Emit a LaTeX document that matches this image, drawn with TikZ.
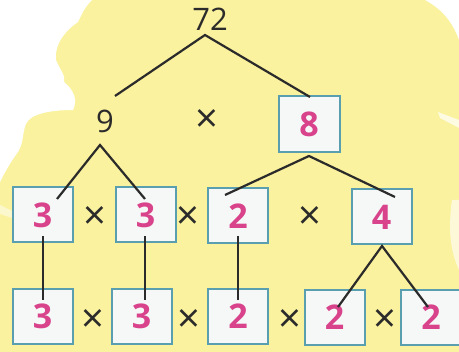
\documentclass[tikz,border=0pt]{standalone}
\usepackage{fontspec}
\setmainfont{Open Sans}
\definecolor{bgyellow}{HTML}{FAF29E}
\definecolor{boxfill}{HTML}{F5F8F6}
\definecolor{boxedge}{HTML}{5A9FB0}
\definecolor{digit}{HTML}{D8438B}
\definecolor{ink}{HTML}{2B2B2B}
\begin{document}
\begin{tikzpicture}[x=1pt,y=-1pt,
  numbox/.style={draw=boxedge,line width=2pt,fill=boxfill,minimum width=60pt,minimum height=55pt,inner sep=0pt,
    text=digit,font=\fontsize{34}{34}\selectfont\bfseries},
  plain/.style={text=ink,inner sep=0pt,font=\fontsize{31}{31}\selectfont},
  times/.style={text=ink,inner sep=0pt,font=\fontsize{40}{40}\selectfont\addfontfeatures{FakeBold=0}},
  link/.style={draw=ink,line width=2.2pt}]
\useasboundingbox (0,0) rectangle (459,352);
\begin{scope}
\clip (0,0) rectangle (459,352);
\fill[bgyellow] (0,0) rectangle (459,352);
\fill[white] (0,0) -- (92,0) .. controls (84,8) and (82,14) .. (78,22)
  .. controls (66,30) and (54,44) .. (56,60) .. controls (60,70) and (66,76) .. (64,82)
  .. controls (74,90) and (78,100) .. (73,110) .. controls (50,110) and (30,114) .. (26,124)
  .. controls (22,134) and (24,142) .. (18,152) .. controls (12,160) and (6,170) .. (0,182) -- cycle;
\fill[white] (425,0) .. controls (440,8) and (452,20) .. (459,40) -- (459,0) -- cycle;
\fill[white,opacity=0.7] (438,112) -- (459,120) -- (459,128) -- (440,118) -- cycle;
\fill[white,opacity=0.6] (452,200) .. controls (448,230) and (450,250) .. (459,270) -- (459,200) -- cycle;
\fill[white,opacity=0.5] (0,205) -- (20,215) -- (18,220) -- (0,214) -- cycle;
\end{scope}
% top level
\node[plain] (n72) at (210,19) {72};
\node[plain] (n9) at (105,121) {9};
\node[times] (x1) at (207,121) {×};
\node[numbox,minimum width=61pt,minimum height=56pt] (b8) at (309,124.5) {8};
% row 1
\node[numbox] (r1a) at (42.5,215) {3};
\node[numbox] (r1b) at (145.5,215) {3};
\node[numbox] (r1c) at (238,216) {2};
\node[numbox] (r1d) at (381.5,217) {4};
\node[times] (x2) at (95,218) {×};
\node[times] (x3) at (188,218) {×};
\node[times] (x4) at (310,218) {×};
% row 2
\node[numbox] (r2a) at (42.5,316.5) {3};
\node[numbox] (r2b) at (141.5,316.5) {3};
\node[numbox] (r2c) at (238,316.5) {2};
\node[numbox] (r2d) at (334.5,317.5) {2};
\node[numbox] (r2e) at (431,317.5) {2};
\node[times] (x5) at (93,321) {×};
\node[times] (x6) at (189,321) {×};
\node[times] (x7) at (290,321) {×};
\node[times] (x8) at (385,321) {×};
% connector end points
\coordinate (t72) at (205,35);
\coordinate (e9) at (115,96);
\coordinate (e8) at (310,97);
\coordinate (t9) at (100,145);
\coordinate (ea) at (57,199);
\coordinate (eb) at (145,199);
\coordinate (t8) at (309,156);
\coordinate (ec) at (225,195);
\coordinate (ed) at (395,197);
\coordinate (va1) at (43,236); \coordinate (va2) at (43,300);
\coordinate (vb1) at (145,236); \coordinate (vb2) at (145,300);
\coordinate (vc1) at (238,236); \coordinate (vc2) at (238,300);
\coordinate (t4) at (382,246);
\coordinate (ee) at (338,307);
\coordinate (ef) at (428,307);
\draw[link] (e9) -- (t72) -- (e8);
\draw[link] (ea) -- (t9) -- (eb);
\draw[link] (ec) -- (t8) -- (ed);
\draw[link] (va1) -- (va2);
\draw[link] (vb1) -- (vb2);
\draw[link] (vc1) -- (vc2);
\draw[link] (ee) -- (t4) -- (ef);
\end{tikzpicture}
\end{document}
